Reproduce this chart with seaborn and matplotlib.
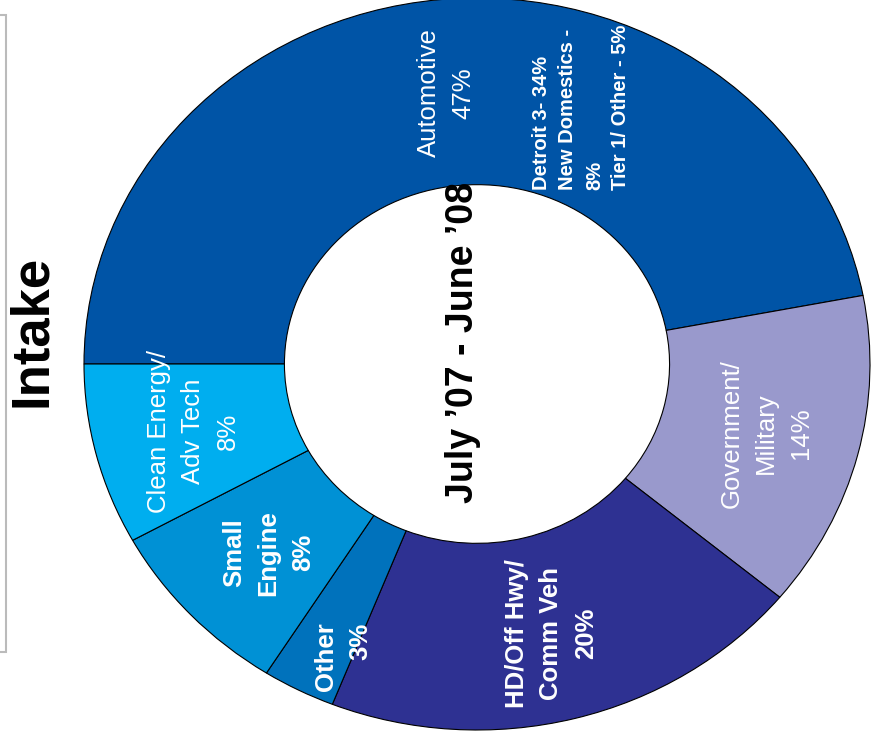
import numpy as np
import matplotlib
matplotlib.use('Agg')
import matplotlib.pyplot as plt
import seaborn as sns
from matplotlib.patches import Rectangle

# 主题与字体
sns.set_theme(style='white')
plt.rcParams['font.family'] = ['Liberation Sans', 'DejaVu Sans']

# ==================== 数据 ====================
segments = ['Automotive', 'Government/\nMilitary', 'HD/Off Hwy/\nComm Veh',
            'Other', 'Small\nEngine', 'Clean Energy/\nAdv Tech']
shares = [47, 14, 20, 3, 8, 8]
seg_colors = ['#0054A6', '#9999CC', '#2E3192', '#0072BC', '#0091D5', '#00AEEF']
seg_weights = ['normal', 'normal', 'bold', 'bold', 'bold', 'normal']
auto_breakdown = ['Detroit 3- 34%', 'New Domestics -', '8%', 'Tier 1/ Other - 5%']
period = 'July \u201907 - June \u201908'
title = 'Intake'

palette = sns.color_palette(seg_colors)

# ==================== 画图 ====================
fig = plt.figure(figsize=(8.75, 7.4), dpi=100)
ax = fig.add_axes([84 / 875, 10 / 740, 786 / 875, 732 / 740])

wedges, _ = ax.pie(shares, colors=palette, startangle=180, counterclock=False,
                   radius=1.0,
                   wedgeprops=dict(width=0.51, edgecolor='black', linewidth=0.8))
ax.set_aspect('auto')
ax.set_xlim(-1, 1)
ax.set_ylim(-1, 1)
ax.axis('off')
for w in wedges:
    w.set_clip_on(False)

# 各扇区标签（位置由扇区角度计算）
nudge = {0: 0.6, 3: 4, 4: 1}
rad = {0: 0.745, 3: 0.87, 4: 0.74, 5: 0.745}
for i, (w, name, pct) in enumerate(zip(wedges, segments, shares)):
    theta = np.deg2rad((w.theta1 + w.theta2) / 2 + nudge.get(i, 0))
    r = rad.get(i, 0.76)
    ax.text(r * np.cos(theta), r * np.sin(theta), f'{name}\n{pct}%',
            rotation=90, ha='center', va='center', color='white',
            fontsize=18.5, fontweight=seg_weights[i], linespacing=1.55,
            multialignment='right' if i == 3 else 'center')

# Automotive 细分
ax.text(0.265, 0.475, '\n'.join(auto_breakdown), rotation=90, ha='center',
        va='bottom', multialignment='left', color='white', fontsize=14.5,
        fontweight='bold', linespacing=1.5)

# 中心文字
ax.text(-0.035, 0.06, period, rotation=90, ha='center', va='center',
        color='black', fontsize=27, fontweight='bold')

# 左侧标题与边框
fig.text(32 / 875, 1 - 331 / 740, title, rotation=90, ha='center', va='center',
         color='black', fontsize=38, fontweight='bold')
fig.add_artist(Rectangle((-0.02, 1 - 652 / 740), 0.02 + 6 / 875, (652 - 15) / 740,
                         transform=fig.transFigure, fill=False,
                         edgecolor='#BBBBBB', linewidth=1.5))

plt.savefig('out.png', dpi=100)
